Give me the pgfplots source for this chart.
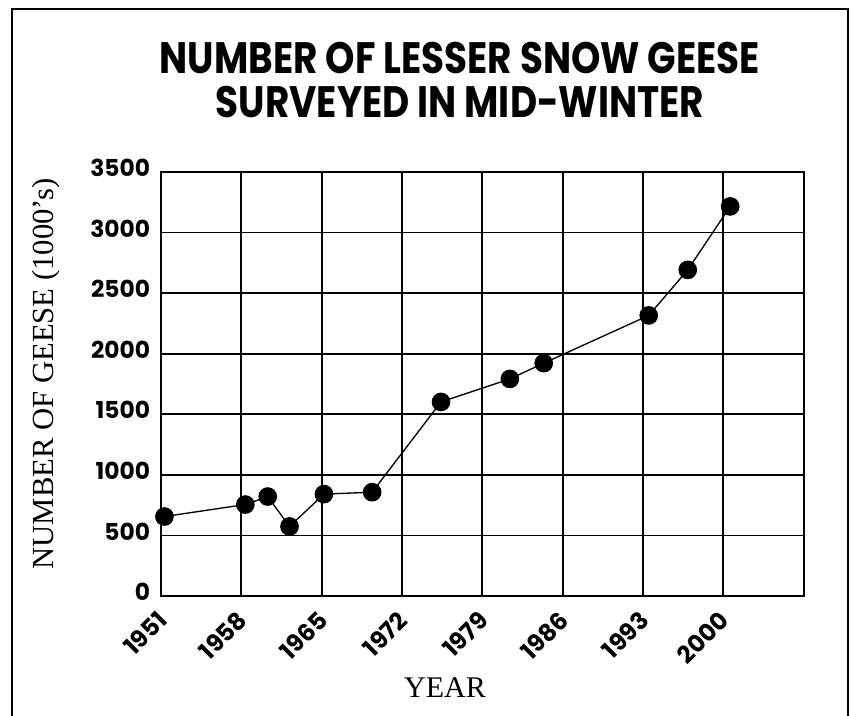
\documentclass[border=0pt]{standalone}
\usepackage{fontspec}
\usepackage{pgfplots}
\pgfplotsset{compat=1.18}
\setmainfont{Liberation Serif}
\newfontfamily\titlefont[FakeStretch=0.85]{Poppins}
\newfontfamily\tickfont{Poppins}
\begin{document}
\begin{tikzpicture}
\begin{scope}[x=0.75pt,y=-0.75pt,shift={(-120.75pt,447pt)}]
\useasboundingbox (0,0) rectangle (850,715);
\draw[line width=1.4pt] (12,716) -- (12,9) -- (848,9) -- (848,716);
\node[font=\titlefont\bfseries\fontsize{33}{33}\selectfont, align=center] at (460,80)
  {NUMBER OF LESSER SNOW GEESE\\SURVEYED IN MID-WINTER};
\node[font=\fontsize{23}{23}\selectfont, rotate=90] at (46,374) {NUMBER OF GEESE (1000's)};
\node[font=\fontsize{22.5}{22.5}\selectfont] at (445,688) {YEAR};
\end{scope}
\begin{axis}[
  at={(0,0)}, anchor=south west,
  scale only axis, width=482pt, height=318pt,
  xmin=1951, xmax=2007, ymin=0, ymax=3500,
  xtick={1951,1958,1965,1972,1979,1986,1993,2000,2007},
  xticklabels={1951,1958,1965,1972,1979,1986,1993,2000,},
  ytick={0,500,...,3500},
  grid=major,
  major grid style={black, line width=1.3pt},
  axis line style={black, line width=1.4pt},
  tick style={draw=none},
  /pgf/number format/1000 sep={},
  /pgf/number format/assume math mode=true,
  xticklabel style={xshift=1pt, yshift=-15pt, rotate=45, anchor=east, inner sep=0pt, font=\tickfont\bfseries\fontsize{18}{18}\selectfont},
  yticklabel style={xshift=-8pt, yshift=3pt, anchor=east, inner sep=0pt, font=\tickfont\bfseries\fontsize{17.5}{17.5}\selectfont},
]
\addplot[black, line width=1.0pt, mark=*, mark size=6.5pt, mark options={solid, fill=black}] coordinates {
(1951.3,656) (1958.35,755) (1960.3,821) (1962.2,574) (1965.2,841) (1969.4,857)
(1975.4,1602) (1981.4,1792) (1984.35,1922) (1993.5,2316) (1996.9,2692) (2000.6,3216)
};
\end{axis}
\end{tikzpicture}
\end{document}
